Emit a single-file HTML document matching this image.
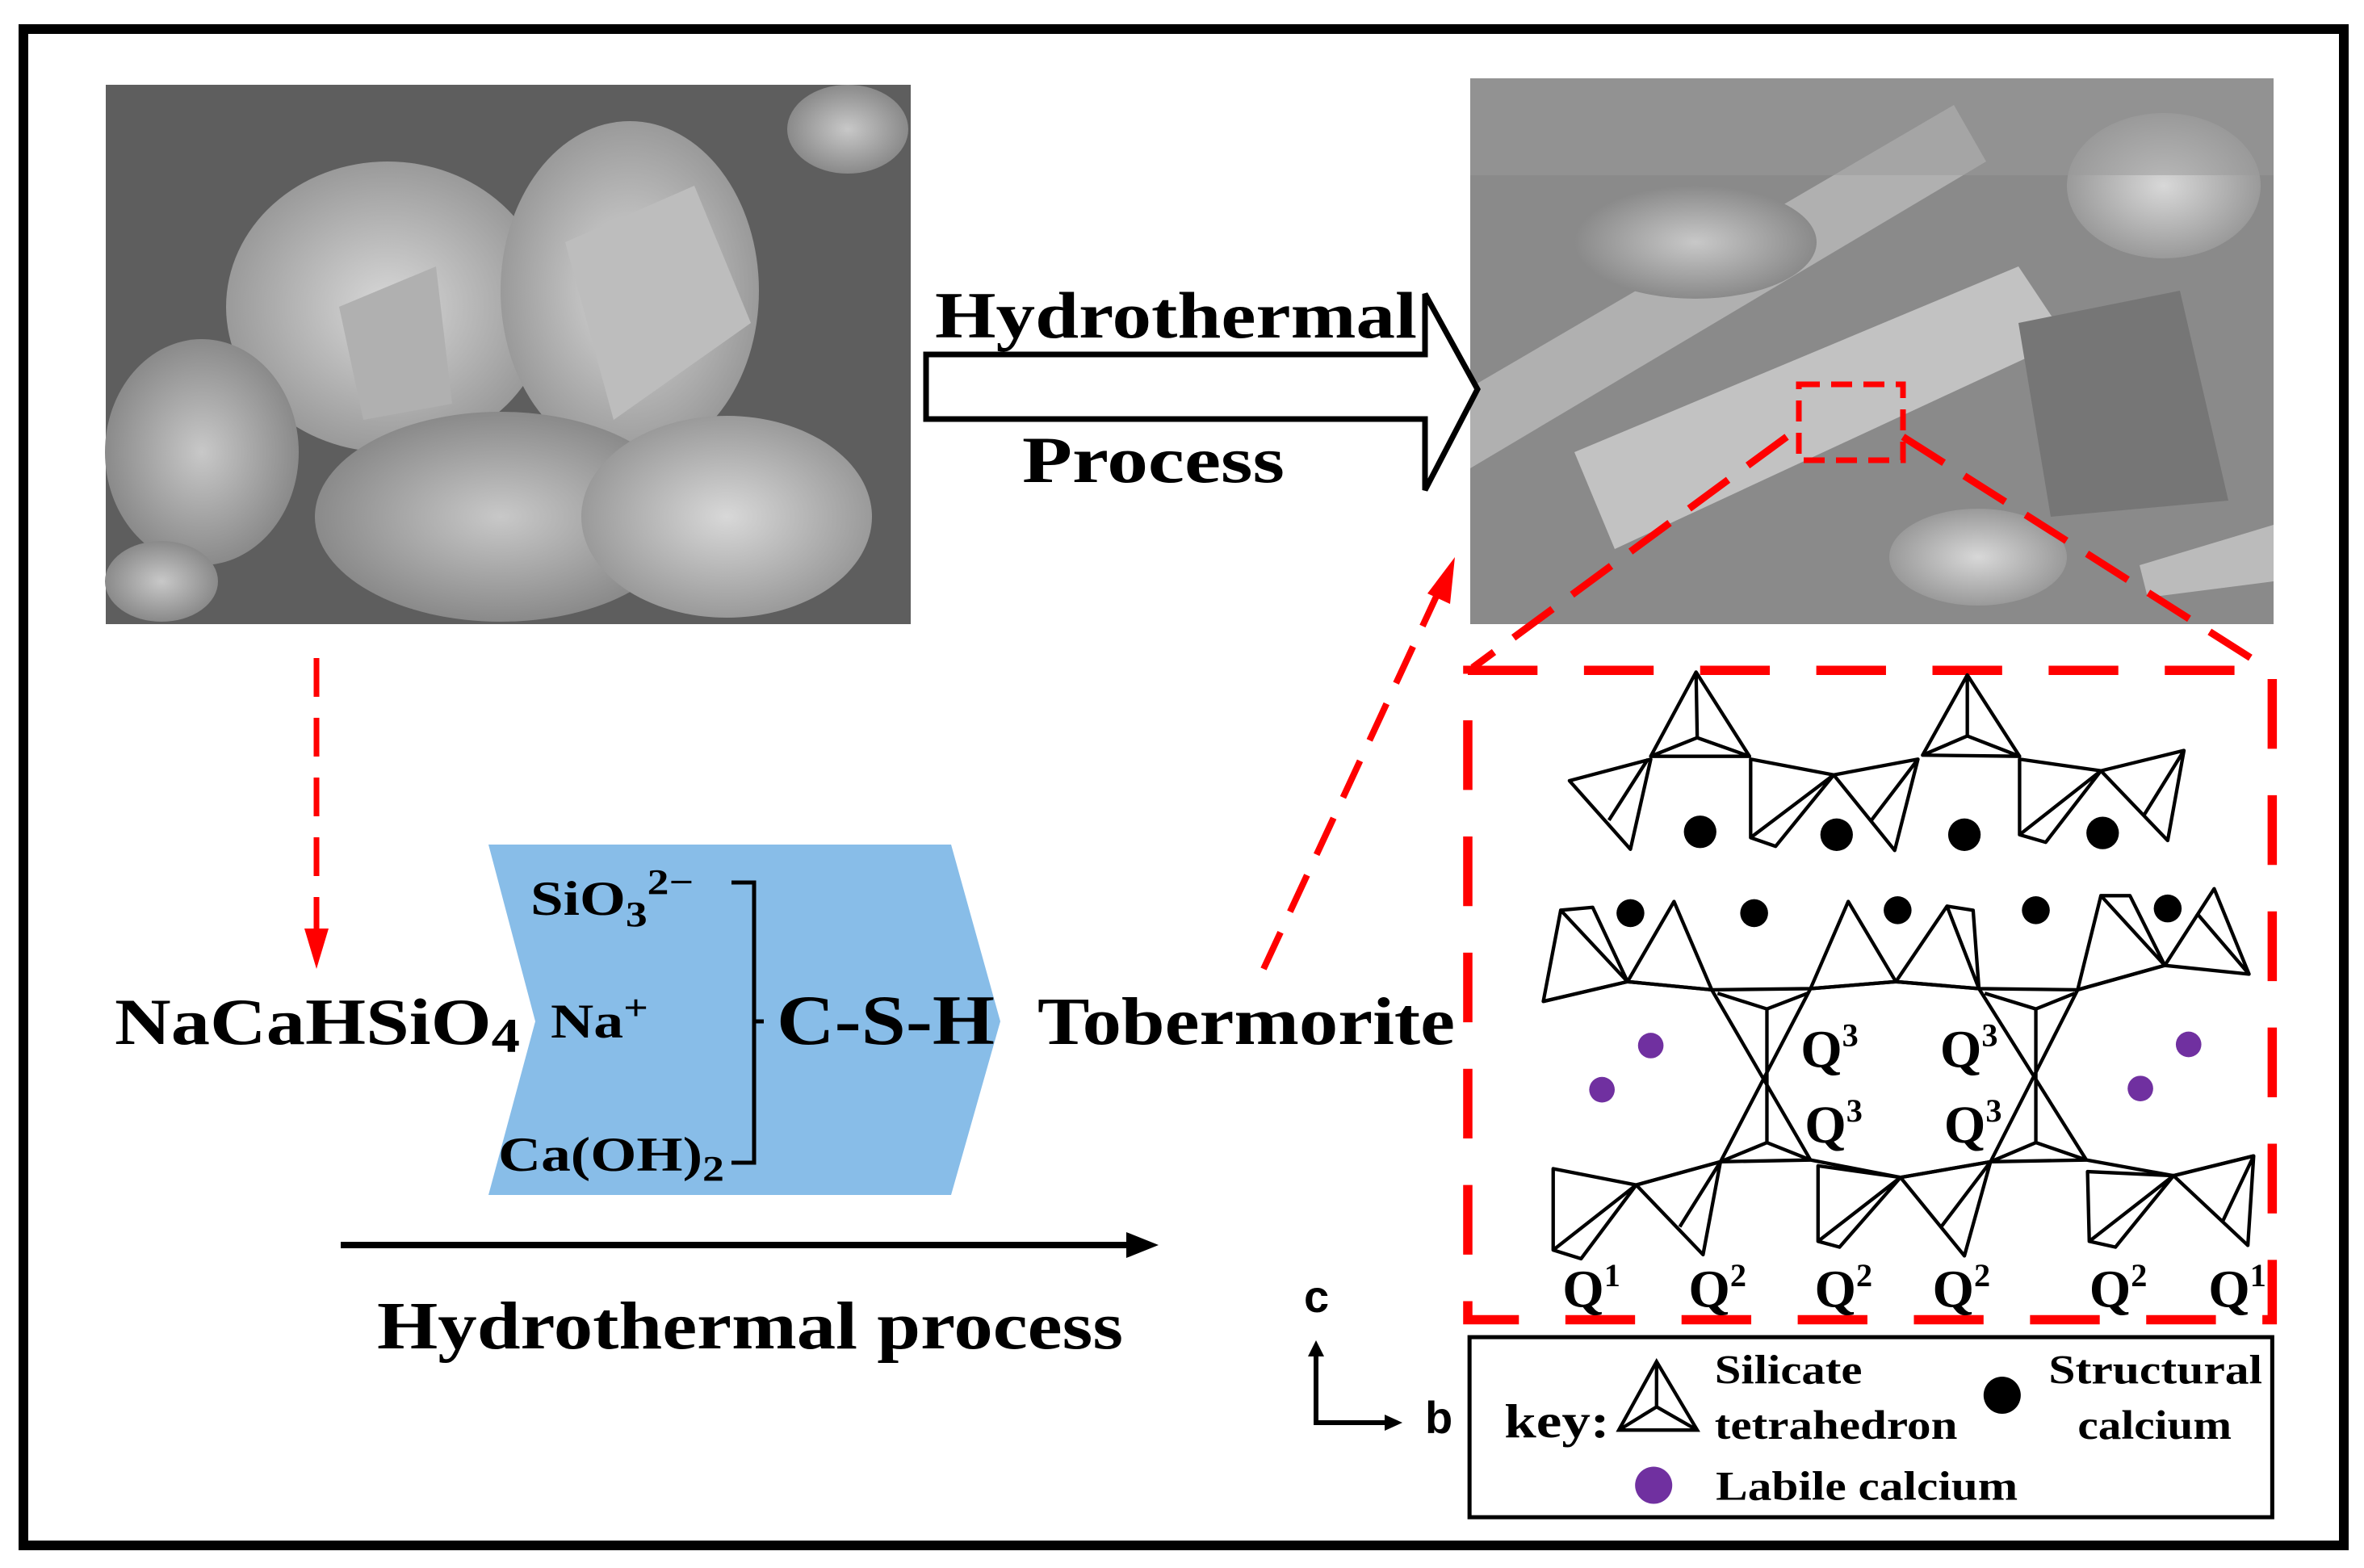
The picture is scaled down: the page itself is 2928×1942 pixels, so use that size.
<!DOCTYPE html>
<html><head><meta charset="utf-8"><style>
html,body{margin:0;padding:0;background:#fff}
svg{display:block}
text{font-family:"Liberation Serif",serif;font-weight:bold;fill:#000}
</style></head><body>
<svg width="2928" height="1942" viewBox="0 0 2928 1942" xmlns="http://www.w3.org/2000/svg">
<defs>
<radialGradient id="g1" cx="0.5" cy="0.5" r="0.5"><stop offset="0" stop-color="#d8d8d8"/><stop offset="1" stop-color="#9a9a9a"/></radialGradient>
<radialGradient id="g2" cx="0.5" cy="0.5" r="0.5"><stop offset="0" stop-color="#c8c8c8"/><stop offset="1" stop-color="#8a8a8a"/></radialGradient>
</defs>
<rect x="0" y="0" width="2928" height="1942" fill="#fff"/>
<rect x="29" y="36" width="2874" height="1878" fill="none" stroke="#000" stroke-width="12"/>

<!-- Left SEM -->
<rect x="131" y="105" width="997" height="668" fill="#5e5e5e"/>
<g>
<ellipse cx="480" cy="380" rx="200" ry="180" fill="url(#g1)"/>
<ellipse cx="780" cy="360" rx="160" ry="210" fill="url(#g1)"/>
<ellipse cx="250" cy="560" rx="120" ry="140" fill="url(#g2)"/>
<ellipse cx="620" cy="640" rx="230" ry="130" fill="url(#g2)"/>
<ellipse cx="900" cy="640" rx="180" ry="125" fill="url(#g1)"/>
<ellipse cx="200" cy="720" rx="70" ry="50" fill="url(#g2)"/>
<ellipse cx="1050" cy="160" rx="75" ry="55" fill="url(#g2)"/>
<polygon points="700,300 860,230 930,400 760,520" fill="#bdbdbd"/>
<polygon points="420,380 540,330 560,500 450,520" fill="#b0b0b0"/>
</g>

<!-- Right SEM -->
<rect x="1821" y="97" width="995" height="676" fill="#8a8a8a"/>
<g>
<polygon points="1821,480 2420,130 2460,200 1821,580" fill="#b0b0b0"/>
<polygon points="1950,560 2500,330 2560,420 2000,680" fill="#c2c2c2"/>
<polygon points="2500,400 2700,360 2760,620 2540,640" fill="#767676"/>
<ellipse cx="2680" cy="230" rx="120" ry="90" fill="url(#g1)"/>
<ellipse cx="2100" cy="300" rx="150" ry="70" fill="url(#g2)"/>
<ellipse cx="2450" cy="690" rx="110" ry="60" fill="url(#g1)"/>
<polygon points="2650,700 2816,650 2816,720 2660,740" fill="#bbb"/>
<rect x="1821" y="97" width="995" height="120" fill="#9a9a9a" opacity="0.5"/>
</g>
<rect x="2228" y="476" width="129" height="94" fill="none" stroke="#f00" stroke-width="7" stroke-dasharray="26,14"/>
<line x1="2213" y1="541" x2="1824" y2="827" stroke="#f00" stroke-width="9" stroke-dasharray="60,30"/>
<line x1="2357" y1="541" x2="2810" y2="829" stroke="#f00" stroke-width="9" stroke-dasharray="60,30"/>

<!-- hollow arrow -->
<polygon points="1147,439 1765,439 1765,364 1830,482 1765,607 1765,519 1147,519" fill="#fff" stroke="#000" stroke-width="7"/>
<text x="1158" y="418" font-size="82" textLength="597" lengthAdjust="spacingAndGlyphs">Hydrothermal</text>
<text x="1266" y="597" font-size="82" textLength="325" lengthAdjust="spacingAndGlyphs">Process</text>

<line x1="392" y1="815" x2="392" y2="1160" stroke="#f00" stroke-width="7" stroke-dasharray="48,26"/>
<polygon points="377,1150 407,1150 392,1200" fill="#f00"/>

<line x1="1565" y1="1200" x2="1783" y2="730" stroke="#f00" stroke-width="8" stroke-dasharray="50,28"/>
<polygon points="1802,690 1768,735 1796,748" fill="#f00"/>

<polygon points="605,1046 1178,1046 1239,1265 1178,1480 605,1480 663,1265" fill="#88bde8"/>
<text x="142" y="1293" font-size="82" textLength="502" lengthAdjust="spacingAndGlyphs">NaCaHSiO<tspan font-size="60" dy="10">4</tspan></text>
<text x="657" y="1133" font-size="60" textLength="202" lengthAdjust="spacingAndGlyphs">SiO<tspan font-size="44" dy="14">3</tspan><tspan font-size="44" dy="-40">2−</tspan></text>
<text x="682" y="1285" font-size="60" textLength="121" lengthAdjust="spacingAndGlyphs">Na<tspan font-size="44" dy="-22">+</tspan></text>
<text x="617" y="1450" font-size="60" textLength="280" lengthAdjust="spacingAndGlyphs">Ca(OH)<tspan font-size="44" dy="12">2</tspan></text>
<path d="M906,1093 H934 V1440 H906 M934,1265 H946" fill="none" stroke="#000" stroke-width="5"/>
<text x="962" y="1293" font-size="88" textLength="270" lengthAdjust="spacingAndGlyphs">C-S-H</text>
<text x="1285" y="1293" font-size="84" textLength="517" lengthAdjust="spacingAndGlyphs">Tobermorite</text>

<line x1="422" y1="1542" x2="1400" y2="1542" stroke="#000" stroke-width="8"/>
<polygon points="1395,1526 1435,1542 1395,1558" fill="#000"/>
<text x="467" y="1670" font-size="84" textLength="924" lengthAdjust="spacingAndGlyphs">Hydrothermal process</text>

<line x1="1630" y1="1765" x2="1630" y2="1675" stroke="#000" stroke-width="6"/>
<polygon points="1620,1680 1640,1680 1630,1660" fill="#000"/>
<line x1="1627" y1="1762" x2="1720" y2="1762" stroke="#000" stroke-width="6"/>
<polygon points="1715,1752 1715,1772 1737,1762" fill="#000"/>
<text x="1615" y="1625" font-size="56" style="font-family:'Liberation Sans',sans-serif">c</text>
<text x="1765" y="1775" font-size="56" style="font-family:'Liberation Sans',sans-serif">b</text>

<g transform="translate(1800,800) scale(0.7194)">
<rect x="25" y="42" width="1385" height="1118" fill="none" stroke="#f00" stroke-width="16" stroke-dasharray="120,80"/>
<g fill="none" stroke="#000" stroke-width="6" stroke-linejoin="round">
<path d="M418,45 L340,190 L510,190 Z M418,45 L420,158 L340,190 M420,158 L510,190"/>
<path d="M885,50 L808,188 L975,190 Z M885,50 L885,155 L808,188 M885,155 L975,190"/>
<path d="M200,232 L340,195 L305,350 Z M268,300 L335,195"/>
<path d="M512,195 L655,222 L555,345 L512,330 Z M512,330 L655,222"/>
<path d="M655,222 L800,195 L760,352 Z M720,300 L800,195"/>
<path d="M975,195 L1115,215 L1020,338 L975,325 Z M975,325 L1115,215"/>
<path d="M1115,215 L1258,180 L1230,335 Z M1190,290 L1258,180"/>
<path d="M155,612 L185,455 L240,450 L300,578 Z M185,455 L300,578"/>
<path d="M300,578 L380,440 L445,592 Z"/>
<path d="M615,590 L680,440 L762,578 Z"/>
<path d="M762,578 L850,448 L895,455 L905,590 Z M850,448 L905,590"/>
<path d="M1075,592 L1115,430 L1165,430 L1225,550 Z M1115,430 L1225,550"/>
<path d="M1225,550 L1310,418 L1370,565 Z M1280,460 L1370,565"/>
<path d="M155,612 L300,578 L445,592 L615,590 L762,578 L905,590 L1075,592 L1225,550"/>
<path d="M445,592 L615,885 M615,590 L460,888 M455,598 L540,625 L610,598 M540,625 L540,855 M460,888 L540,855 L615,885"/>
<path d="M905,590 L1090,885 M1075,592 L925,888 M915,598 L1003,625 L1070,598 M1003,625 L1003,855 M925,888 L1003,855 L1090,885"/>
<path d="M315,928 L460,888 L615,885 L770,915 L925,888 L1090,885 L1240,912 L1378,878"/>
<path d="M172,900 L315,928 L220,1055 L172,1040 Z M172,1040 L315,928"/>
<path d="M315,928 L460,888 L430,1048 Z M390,1000 L460,888"/>
<path d="M628,895 L770,915 L665,1035 L628,1025 Z M628,1025 L770,915"/>
<path d="M770,915 L925,888 L880,1050 Z M840,1000 L925,888"/>
<path d="M1092,905 L1240,912 L1140,1035 L1095,1025 Z M1095,1025 L1240,912"/>
<path d="M1240,912 L1378,878 L1368,1032 Z M1325,990 L1378,878"/>
</g>
<g fill="#000">
<circle cx="425" cy="320" r="28"/><circle cx="660" cy="325" r="28"/><circle cx="880" cy="325" r="28"/><circle cx="1118" cy="322" r="28"/>
<circle cx="305" cy="460" r="24"/><circle cx="518" cy="460" r="24"/><circle cx="765" cy="455" r="24"/><circle cx="1003" cy="455" r="24"/><circle cx="1230" cy="452" r="24"/>
</g>
<g fill="#7030a0">
<circle cx="340" cy="688" r="22"/><circle cx="256" cy="764" r="22"/><circle cx="1266" cy="686" r="22"/><circle cx="1183" cy="762" r="22"/>
</g>
<g font-size="92">
<text x="598" y="725">Q<tspan font-size="56" dy="-36">3</tspan></text>
<text x="838" y="725">Q<tspan font-size="56" dy="-36">3</tspan></text>
<text x="605" y="855">Q<tspan font-size="56" dy="-36">3</tspan></text>
<text x="845" y="855">Q<tspan font-size="56" dy="-36">3</tspan></text>
<text x="188" y="1138">Q<tspan font-size="56" dy="-36">1</tspan></text>
<text x="405" y="1138">Q<tspan font-size="56" dy="-36">2</tspan></text>
<text x="622" y="1138">Q<tspan font-size="56" dy="-36">2</tspan></text>
<text x="825" y="1138">Q<tspan font-size="56" dy="-36">2</tspan></text>
<text x="1095" y="1138">Q<tspan font-size="56" dy="-36">2</tspan></text>
<text x="1300" y="1138">Q<tspan font-size="56" dy="-36">1</tspan></text>
</g>
<rect x="28" y="1190" width="1382" height="310" fill="#fff" stroke="#000" stroke-width="7"/>
<text x="88" y="1362" font-size="82" textLength="181" lengthAdjust="spacingAndGlyphs">key:</text>
<path d="M285,1350 L350,1232 L420,1350 Z M350,1232 L350,1310 L285,1350 M350,1310 L420,1350" fill="none" stroke="#000" stroke-width="6"/>
<text x="450" y="1270" font-size="70" textLength="254" lengthAdjust="spacingAndGlyphs">Silicate</text>
<text x="450" y="1365" font-size="70" textLength="418" lengthAdjust="spacingAndGlyphs">tetrahedron</text>
<circle cx="945" cy="1290" r="32" fill="#000"/>
<text x="1025" y="1270" font-size="70" textLength="368" lengthAdjust="spacingAndGlyphs">Structural</text>
<text x="1075" y="1365" font-size="70" textLength="265" lengthAdjust="spacingAndGlyphs">calcium</text>
<circle cx="345" cy="1445" r="32" fill="#7030a0"/>
<text x="452" y="1470" font-size="70" textLength="520" lengthAdjust="spacingAndGlyphs">Labile calcium</text>
</g>
</svg>
</body></html>
